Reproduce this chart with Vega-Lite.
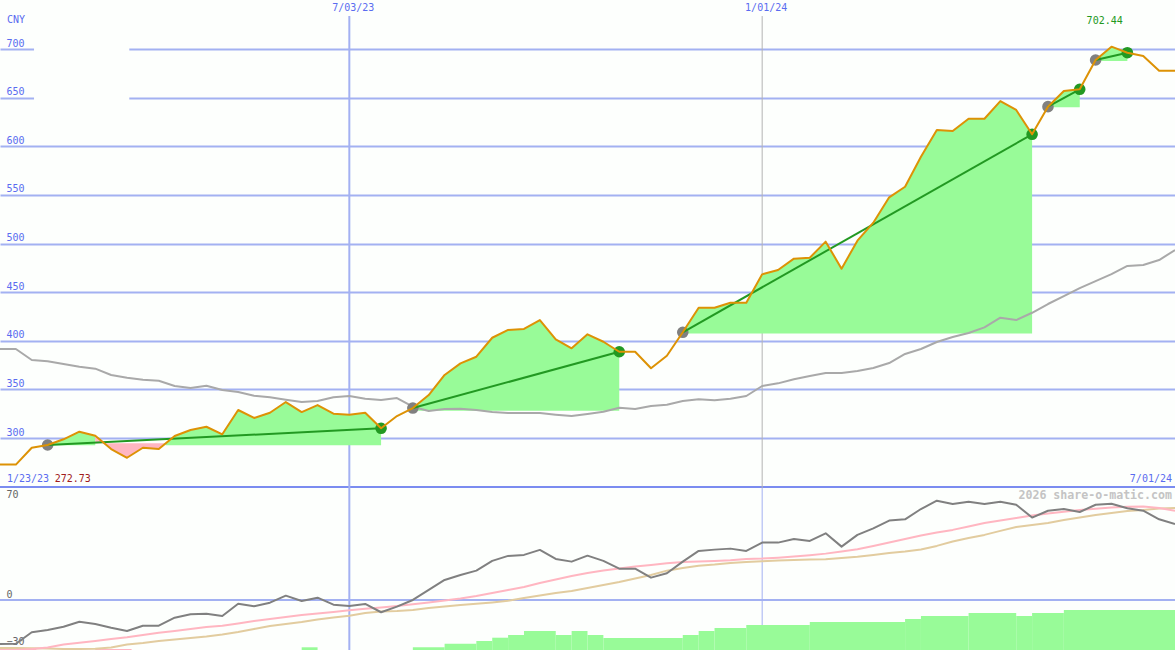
{
  "$schema": "https://vega.github.io/schema/vega-lite/v6.json",
  "padding": {"left": -1, "top": 0, "right": 0, "bottom": 0},
  "spacing": 0,
  "bounds": "flush",
  "background": "#fdfffd",
  "config": {"view": {"stroke": null}, "text": {"font": "DejaVu Sans Mono", "fontSize": 10}, "line": {"strokeJoin": "round", "clip": true}},
  "datasets": {
    "weekly": [
      {"date":"2023-01-30","close":272.7,"sma":391.5,"rsi":-30.8,"fast":-35.3,"slow":-33.6},
      {"date":"2023-02-06","close":272.7,"sma":391.5,"rsi":-30.6,"fast":-35,"slow":-33.6},
      {"date":"2023-02-13","close":290,"sma":380.2,"rsi":-22.6,"fast":-34.3,"slow":-33.7},
      {"date":"2023-02-20","close":292.8,"sma":378.9,"rsi":-21,"fast":-33.2,"slow":-33.9},
      {"date":"2023-02-27","close":298.7,"sma":376.1,"rsi":-18.7,"fast":-31.1,"slow":-34.3},
      {"date":"2023-03-06","close":306.5,"sma":373.3,"rsi":-15.2,"fast":-29.9,"slow":-34.3},
      {"date":"2023-03-13","close":302.4,"sma":371.3,"rsi":-16.8,"fast":-28.7,"slow":-34.1},
      {"date":"2023-03-20","close":288.7,"sma":364.8,"rsi":-19.4,"fast":-27.3,"slow":-33.2},
      {"date":"2023-03-27","close":279.7,"sma":362,"rsi":-21.7,"fast":-26.1,"slow":-31.1},
      {"date":"2023-04-03","close":290,"sma":359.9,"rsi":-18,"fast":-24.5,"slow":-30.1},
      {"date":"2023-04-10","close":288.7,"sma":358.9,"rsi":-18,"fast":-22.9,"slow":-28.7},
      {"date":"2023-04-17","close":302.1,"sma":353.5,"rsi":-12.4,"fast":-21.7,"slow":-27.6},
      {"date":"2023-04-24","close":308.2,"sma":351.4,"rsi":-10,"fast":-20.3,"slow":-26.6},
      {"date":"2023-05-01","close":311.6,"sma":353.8,"rsi":-9.6,"fast":-18.9,"slow":-25.5},
      {"date":"2023-05-08","close":303.8,"sma":349.4,"rsi":-11.2,"fast":-18,"slow":-24.1},
      {"date":"2023-05-15","close":328.8,"sma":347.3,"rsi":-2.6,"fast":-16.4,"slow":-22.4},
      {"date":"2023-05-22","close":320.6,"sma":343.5,"rsi":-4.4,"fast":-14.7,"slow":-20.3},
      {"date":"2023-05-29","close":326,"sma":341.9,"rsi":-1.9,"fast":-13.3,"slow":-18.2},
      {"date":"2023-06-05","close":337,"sma":339.4,"rsi":3,"fast":-11.9,"slow":-16.8},
      {"date":"2023-06-12","close":326.7,"sma":337,"rsi":-0.7,"fast":-10.5,"slow":-15.4},
      {"date":"2023-06-19","close":333.9,"sma":338,"rsi":1.6,"fast":-9.4,"slow":-13.6},
      {"date":"2023-06-26","close":325,"sma":341.9,"rsi":-3.3,"fast":-8.4,"slow":-12.2},
      {"date":"2023-07-03","close":324,"sma":343.2,"rsi":-4.2,"fast":-7.2,"slow":-11},
      {"date":"2023-07-10","close":326,"sma":340.4,"rsi":-2.8,"fast":-6.1,"slow":-9.1},
      {"date":"2023-07-17","close":310,"sma":339.1,"rsi":-8.6,"fast":-5.2,"slow":-8},
      {"date":"2023-07-24","close":322.6,"sma":341.1,"rsi":-4.7,"fast":-4.2,"slow":-7.7},
      {"date":"2023-07-31","close":330.8,"sma":332.2,"rsi":0,"fast":-3,"slow":-7},
      {"date":"2023-08-07","close":344.2,"sma":327.8,"rsi":7,"fast":-1.7,"slow":-5.6},
      {"date":"2023-08-14","close":364.8,"sma":329.8,"rsi":14,"fast":-0.3,"slow":-4.5},
      {"date":"2023-08-21","close":376.8,"sma":330.1,"rsi":17.5,"fast":1,"slow":-3.5},
      {"date":"2023-08-28","close":383.6,"sma":328.8,"rsi":20.5,"fast":2.8,"slow":-2.7},
      {"date":"2023-09-04","close":403.1,"sma":326.7,"rsi":27.3,"fast":4.9,"slow":-1.7},
      {"date":"2023-09-11","close":411.1,"sma":325.7,"rsi":30.8,"fast":7,"slow":-0.5},
      {"date":"2023-09-18","close":412.1,"sma":325.7,"rsi":31.5,"fast":9.1,"slow":1.4},
      {"date":"2023-09-25","close":421.3,"sma":325.7,"rsi":35,"fast":11.9,"slow":3.1},
      {"date":"2023-10-02","close":401.5,"sma":324,"rsi":28.7,"fast":14.3,"slow":4.9},
      {"date":"2023-10-09","close":392.2,"sma":322.6,"rsi":26.8,"fast":16.8,"slow":6.3},
      {"date":"2023-10-16","close":406.6,"sma":324.7,"rsi":31,"fast":18.9,"slow":8.4},
      {"date":"2023-10-23","close":399,"sma":327,"rsi":27.3,"fast":20.6,"slow":10.5},
      {"date":"2023-10-30","close":388.7,"sma":331.2,"rsi":21.9,"fast":22,"slow":12.6},
      {"date":"2023-11-06","close":388.7,"sma":329.8,"rsi":21.9,"fast":23.4,"slow":15},
      {"date":"2023-11-13","close":371.7,"sma":332.9,"rsi":15.6,"fast":24.5,"slow":17.5},
      {"date":"2023-11-20","close":384.6,"sma":334.2,"rsi":18.7,"fast":25.7,"slow":20.5},
      {"date":"2023-11-27","close":408.7,"sma":338,"rsi":26.8,"fast":26.6,"slow":22.4},
      {"date":"2023-12-04","close":434,"sma":339.8,"rsi":34.3,"fast":26.9,"slow":24},
      {"date":"2023-12-11","close":434,"sma":338.8,"rsi":35.2,"fast":27.3,"slow":24.8},
      {"date":"2023-12-18","close":439.1,"sma":340.4,"rsi":35.9,"fast":27.8,"slow":25.9},
      {"date":"2023-12-25","close":439.1,"sma":343.2,"rsi":34.3,"fast":28.7,"slow":26.6},
      {"date":"2024-01-01","close":468.3,"sma":353.5,"rsi":40.1,"fast":29,"slow":27.1},
      {"date":"2024-01-08","close":472.8,"sma":356.2,"rsi":40.1,"fast":29.6,"slow":27.6},
      {"date":"2024-01-15","close":484.4,"sma":360.4,"rsi":42.7,"fast":30.4,"slow":28},
      {"date":"2024-01-22","close":485.4,"sma":363.8,"rsi":41.3,"fast":31.3,"slow":28.3},
      {"date":"2024-01-29","close":501.9,"sma":366.8,"rsi":46.6,"fast":32.4,"slow":28.5},
      {"date":"2024-02-05","close":474.1,"sma":366.8,"rsi":37.3,"fast":33.9,"slow":29.4},
      {"date":"2024-02-12","close":502.9,"sma":368.9,"rsi":45.5,"fast":35.5,"slow":30.3},
      {"date":"2024-02-19","close":521.4,"sma":372,"rsi":50.1,"fast":37.8,"slow":31.5},
      {"date":"2024-02-26","close":547.5,"sma":377.1,"rsi":55.5,"fast":40.2,"slow":32.9},
      {"date":"2024-03-04","close":558.4,"sma":386.4,"rsi":56.4,"fast":42.7,"slow":33.9},
      {"date":"2024-03-11","close":589.3,"sma":391.5,"rsi":63.6,"fast":45.1,"slow":35.3},
      {"date":"2024-03-18","close":616.7,"sma":398.7,"rsi":69.4,"fast":47.2,"slow":37.8},
      {"date":"2024-03-25","close":615.7,"sma":403.9,"rsi":67.1,"fast":49,"slow":40.9},
      {"date":"2024-04-01","close":628.3,"sma":408,"rsi":68.7,"fast":51.4,"slow":43.4},
      {"date":"2024-04-08","close":628.3,"sma":413.8,"rsi":67.1,"fast":53.8,"slow":45.5},
      {"date":"2024-04-15","close":646.5,"sma":423.7,"rsi":68.7,"fast":55.6,"slow":48.3},
      {"date":"2024-04-22","close":637.3,"sma":421.3,"rsi":66.6,"fast":57.3,"slow":51},
      {"date":"2024-04-29","close":612.3,"sma":428.8,"rsi":57.6,"fast":59,"slow":52.4},
      {"date":"2024-05-06","close":640.7,"sma":437.8,"rsi":62.4,"fast":60.5,"slow":53.8},
      {"date":"2024-05-13","close":656.8,"sma":446,"rsi":63.6,"fast":61.7,"slow":55.9},
      {"date":"2024-05-20","close":658.6,"sma":454.2,"rsi":61.5,"fast":62.9,"slow":57.7},
      {"date":"2024-05-27","close":688.7,"sma":461.4,"rsi":66.6,"fast":63.8,"slow":59.4},
      {"date":"2024-06-03","close":702.4,"sma":468.6,"rsi":67.3,"fast":64.7,"slow":60.8},
      {"date":"2024-06-10","close":696.2,"sma":476.9,"rsi":64.1,"fast":65.1,"slow":62.2},
      {"date":"2024-06-17","close":692.8,"sma":477.9,"rsi":62.4,"fast":65.3,"slow":62.9},
      {"date":"2024-06-24","close":677.7,"sma":483,"rsi":56.4,"fast":64.3,"slow":64},
      {"date":"2024-07-01","close":677.7,"sma":493.3,"rsi":53.1,"fast":62.4,"slow":64.3}
    ],
    "fills": [
      {"leg":"a","result":"gain","base":292.5,"date":"2023-02-20","close":292.8},
      {"leg":"a","result":"gain","base":292.5,"date":"2023-02-27","close":298.7},
      {"leg":"a","result":"gain","base":292.5,"date":"2023-03-06","close":306.5},
      {"leg":"a","result":"gain","base":292.5,"date":"2023-03-13","close":302.4},
      {"leg":"b","result":"loss","base":294.5,"date":"2023-03-13","close":302.4},
      {"leg":"b","result":"loss","base":294.5,"date":"2023-03-20","close":288.7},
      {"leg":"b","result":"loss","base":294.5,"date":"2023-03-27","close":279.7},
      {"leg":"b","result":"loss","base":294.5,"date":"2023-04-03","close":290},
      {"leg":"b","result":"loss","base":294.5,"date":"2023-04-10","close":288.7},
      {"leg":"b","result":"loss","base":294.5,"date":"2023-04-13","close":294.5},
      {"leg":"c","result":"gain","base":292.5,"date":"2023-04-13","close":294.5},
      {"leg":"c","result":"gain","base":292.5,"date":"2023-04-17","close":302.1},
      {"leg":"c","result":"gain","base":292.5,"date":"2023-04-24","close":308.2},
      {"leg":"c","result":"gain","base":292.5,"date":"2023-05-01","close":311.6},
      {"leg":"c","result":"gain","base":292.5,"date":"2023-05-08","close":303.8},
      {"leg":"c","result":"gain","base":292.5,"date":"2023-05-15","close":328.8},
      {"leg":"c","result":"gain","base":292.5,"date":"2023-05-22","close":320.6},
      {"leg":"c","result":"gain","base":292.5,"date":"2023-05-29","close":326},
      {"leg":"c","result":"gain","base":292.5,"date":"2023-06-05","close":337},
      {"leg":"c","result":"gain","base":292.5,"date":"2023-06-12","close":326.7},
      {"leg":"c","result":"gain","base":292.5,"date":"2023-06-19","close":333.9},
      {"leg":"c","result":"gain","base":292.5,"date":"2023-06-26","close":325},
      {"leg":"c","result":"gain","base":292.5,"date":"2023-07-03","close":324},
      {"leg":"c","result":"gain","base":292.5,"date":"2023-07-10","close":326},
      {"leg":"c","result":"gain","base":292.5,"date":"2023-07-17","close":310},
      {"leg":"d","result":"gain","base":328,"date":"2023-07-31","close":330.8},
      {"leg":"d","result":"gain","base":328,"date":"2023-08-07","close":344.2},
      {"leg":"d","result":"gain","base":328,"date":"2023-08-14","close":364.8},
      {"leg":"d","result":"gain","base":328,"date":"2023-08-21","close":376.8},
      {"leg":"d","result":"gain","base":328,"date":"2023-08-28","close":383.6},
      {"leg":"d","result":"gain","base":328,"date":"2023-09-04","close":403.1},
      {"leg":"d","result":"gain","base":328,"date":"2023-09-11","close":411.1},
      {"leg":"d","result":"gain","base":328,"date":"2023-09-18","close":412.1},
      {"leg":"d","result":"gain","base":328,"date":"2023-09-25","close":421.3},
      {"leg":"d","result":"gain","base":328,"date":"2023-10-02","close":401.5},
      {"leg":"d","result":"gain","base":328,"date":"2023-10-09","close":392.2},
      {"leg":"d","result":"gain","base":328,"date":"2023-10-16","close":406.6},
      {"leg":"d","result":"gain","base":328,"date":"2023-10-23","close":399},
      {"leg":"d","result":"gain","base":328,"date":"2023-10-30","close":388.7},
      {"leg":"e","result":"gain","base":407.5,"date":"2023-11-27","close":408.7},
      {"leg":"e","result":"gain","base":407.5,"date":"2023-12-04","close":434},
      {"leg":"e","result":"gain","base":407.5,"date":"2023-12-11","close":434},
      {"leg":"e","result":"gain","base":407.5,"date":"2023-12-18","close":439.1},
      {"leg":"e","result":"gain","base":407.5,"date":"2023-12-25","close":439.1},
      {"leg":"e","result":"gain","base":407.5,"date":"2024-01-01","close":468.3},
      {"leg":"e","result":"gain","base":407.5,"date":"2024-01-08","close":472.8},
      {"leg":"e","result":"gain","base":407.5,"date":"2024-01-15","close":484.4},
      {"leg":"e","result":"gain","base":407.5,"date":"2024-01-22","close":485.4},
      {"leg":"e","result":"gain","base":407.5,"date":"2024-01-29","close":501.9},
      {"leg":"e","result":"gain","base":407.5,"date":"2024-02-05","close":474.1},
      {"leg":"e","result":"gain","base":407.5,"date":"2024-02-12","close":502.9},
      {"leg":"e","result":"gain","base":407.5,"date":"2024-02-19","close":521.4},
      {"leg":"e","result":"gain","base":407.5,"date":"2024-02-26","close":547.5},
      {"leg":"e","result":"gain","base":407.5,"date":"2024-03-04","close":558.4},
      {"leg":"e","result":"gain","base":407.5,"date":"2024-03-11","close":589.3},
      {"leg":"e","result":"gain","base":407.5,"date":"2024-03-18","close":616.7},
      {"leg":"e","result":"gain","base":407.5,"date":"2024-03-25","close":615.7},
      {"leg":"e","result":"gain","base":407.5,"date":"2024-04-01","close":628.3},
      {"leg":"e","result":"gain","base":407.5,"date":"2024-04-08","close":628.3},
      {"leg":"e","result":"gain","base":407.5,"date":"2024-04-15","close":646.5},
      {"leg":"e","result":"gain","base":407.5,"date":"2024-04-22","close":637.3},
      {"leg":"e","result":"gain","base":407.5,"date":"2024-04-29","close":612.3},
      {"leg":"f","result":"gain","base":640,"date":"2024-05-06","close":640.7},
      {"leg":"f","result":"gain","base":640,"date":"2024-05-13","close":656.8},
      {"leg":"f","result":"gain","base":640,"date":"2024-05-20","close":658.6},
      {"leg":"g","result":"gain","base":687.7,"date":"2024-05-27","close":688.7},
      {"leg":"g","result":"gain","base":687.7,"date":"2024-06-03","close":702.4},
      {"leg":"g","result":"gain","base":687.7,"date":"2024-06-10","close":696.2}
    ],
    "trades": [
      {"trade":1,"stage":"buy","date":"2023-02-20","price":292.8},
      {"trade":1,"stage":"sell","date":"2023-07-17","price":310},
      {"trade":2,"stage":"buy","date":"2023-07-31","price":330.8},
      {"trade":2,"stage":"sell","date":"2023-10-30","price":388.7},
      {"trade":3,"stage":"buy","date":"2023-11-27","price":408.7},
      {"trade":3,"stage":"sell","date":"2024-04-29","price":612.3},
      {"trade":4,"stage":"buy","date":"2024-05-06","price":640.7},
      {"trade":4,"stage":"sell","date":"2024-05-20","price":658.6},
      {"trade":5,"stage":"buy","date":"2024-05-27","price":688.7},
      {"trade":5,"stage":"sell","date":"2024-06-10","price":696.2}
    ],
    "bars": [
      {"start":"2023-01-30","end":"2023-02-15","top":-34.3,"result":"loss"},
      {"start":"2023-03-13","end":"2023-03-29","top":-34.3,"result":"loss"},
      {"start":"2023-06-12","end":"2023-06-19","top":-33.1,"result":"gain"},
      {"start":"2023-07-31","end":"2023-08-14","top":-33.1,"result":"gain"},
      {"start":"2023-08-14","end":"2023-08-28","top":-30.6,"result":"gain"},
      {"start":"2023-08-28","end":"2023-09-04","top":-28.7,"result":"gain"},
      {"start":"2023-09-04","end":"2023-09-11","top":-26.4,"result":"gain"},
      {"start":"2023-09-11","end":"2023-09-18","top":-24.5,"result":"gain"},
      {"start":"2023-09-18","end":"2023-10-02","top":-21.7,"result":"gain"},
      {"start":"2023-10-02","end":"2023-10-09","top":-24.5,"result":"gain"},
      {"start":"2023-10-09","end":"2023-10-16","top":-21.7,"result":"gain"},
      {"start":"2023-10-16","end":"2023-10-23","top":-24.5,"result":"gain"},
      {"start":"2023-10-23","end":"2023-11-27","top":-26.6,"result":"gain"},
      {"start":"2023-11-27","end":"2023-12-04","top":-24.5,"result":"gain"},
      {"start":"2023-12-04","end":"2023-12-11","top":-21.7,"result":"gain"},
      {"start":"2023-12-11","end":"2023-12-25","top":-19.6,"result":"gain"},
      {"start":"2023-12-25","end":"2024-01-22","top":-17.5,"result":"gain"},
      {"start":"2024-01-22","end":"2024-03-04","top":-15.4,"result":"gain"},
      {"start":"2024-03-04","end":"2024-03-11","top":-13.3,"result":"gain"},
      {"start":"2024-03-11","end":"2024-04-01","top":-11.2,"result":"gain"},
      {"start":"2024-04-01","end":"2024-04-22","top":-9.1,"result":"gain"},
      {"start":"2024-04-22","end":"2024-04-29","top":-11.2,"result":"gain"},
      {"start":"2024-04-29","end":"2024-05-13","top":-9.1,"result":"gain"},
      {"start":"2024-05-13","end":"2024-07-01","top":-7,"result":"gain"}
    ],
    "calendar": [
      {"date":"2023-07-03","label":"7/03/23","kind":"half"},
      {"date":"2024-01-01","label":"1/01/24","kind":"year"}
    ]
  },
  "vconcat": [
    {
      "width": 1175,
      "height": 488,
      "layer": [
        {
          "data": {"values": [{"start":"2023-02-14","end":"2023-03-28","low":644,"high":705}]},
          "mark": {"type": "rect", "color": "#fdfffd"},
          "encoding": {
            "x": {"field": "start", "type": "temporal", "axis": null, "scale": {"domain": ["2023-01-30", "2024-07-01"]}},
            "x2": {"field": "end"},
            "y": {
              "field": "low",
              "type": "quantitative",
              "scale": {"domain": [248.6, 750.4], "nice": false, "zero": false},
              "axis": {
                "title": null,
                "orient": "left",
                "values": [300, 350, 400, 450, 500, 550, 600, 650, 700],
                "domain": false,
                "ticks": false,
                "grid": true,
                "gridColor": "#a3b1f2",
                "gridWidth": 2,
                "labelAlign": "left",
                "labelBaseline": "bottom",
                "labelPadding": -6,
                "labelOffset": -1,
                "labelColor": "#5a6cf0",
                "labelFont": "DejaVu Sans Mono",
                "labelFontSize": 10
              }
            },
            "y2": {"field": "high"}
          }
        },
        {
          "data": {"values": [{"start":"2023-01-30","end":"2024-07-01","level":249.6}]},
          "mark": {"type": "rule", "color": "#7b8cf0", "strokeWidth": 2, "clip": true},
          "encoding": {
            "x": {"field": "start", "type": "temporal"},
            "x2": {"field": "end"},
            "y": {"field": "level", "type": "quantitative"}
          }
        },
        {
          "data": {"name": "calendar"},
          "mark": {"type": "rule"},
          "encoding": {
            "x": {"field": "date", "type": "temporal"},
            "y": {"datum": 733.9},
            "y2": {"datum": 248.6},
            "stroke": {"field": "kind", "type": "nominal", "legend": null, "scale": {"domain": ["half", "year"], "range": ["#a3b1f2", "#b4b4b4"]}},
            "size": {"field": "kind", "type": "ordinal", "legend": null, "scale": {"domain": ["half", "year"], "range": [2, 1]}}
          }
        },
        {
          "data": {"name": "fills"},
          "mark": {"type": "area"},
          "encoding": {
            "x": {"field": "date", "type": "temporal"},
            "y": {"field": "close", "type": "quantitative", "stack": null},
            "y2": {"field": "base"},
            "detail": {"field": "leg"},
            "fill": {"field": "result", "type": "nominal", "legend": null, "scale": {"domain": ["gain", "loss"], "range": ["#98fb98", "#ffb6c1"]}}
          }
        },
        {
          "data": {"name": "weekly"},
          "mark": {"type": "line", "color": "#a9a9a9", "strokeWidth": 2},
          "encoding": {
            "x": {"field": "date", "type": "temporal"},
            "y": {"field": "sma", "type": "quantitative"}
          }
        },
        {
          "data": {"name": "trades"},
          "mark": {"type": "circle", "opacity": 1, "size": 135},
          "encoding": {
            "x": {"field": "date", "type": "temporal"},
            "y": {"field": "price", "type": "quantitative"},
            "color": {"field": "stage", "type": "nominal", "legend": null, "scale": {"domain": ["buy", "sell"], "range": ["#808080", "#229922"]}}
          }
        },
        {
          "data": {"name": "trades"},
          "mark": {"type": "line", "color": "#229922", "strokeWidth": 2},
          "encoding": {
            "x": {"field": "date", "type": "temporal"},
            "y": {"field": "price", "type": "quantitative"},
            "detail": {"field": "trade"}
          }
        },
        {
          "data": {"name": "weekly"},
          "mark": {"type": "line", "color": "#dd9205", "strokeWidth": 2},
          "encoding": {
            "x": {"field": "date", "type": "temporal"},
            "y": {"field": "close", "type": "quantitative"}
          }
        },
        {
          "data": {"name": "calendar"},
          "mark": {"type": "text", "color": "#5a6cf0", "baseline": "middle", "dx": 4},
          "encoding": {
            "x": {"field": "date", "type": "temporal"},
            "y": {"datum": 742.2},
            "text": {"field": "label"}
          }
        },
        {
          "data": {"values": [
            {"date":"2023-01-30","price":729.8,"label":"CNY"},
            {"date":"2023-01-30","price":257.8,"label":"1/23/23"}
          ]},
          "mark": {"type": "text", "color": "#5a6cf0", "align": "left", "baseline": "middle", "dx": 7},
          "encoding": {
            "x": {"field": "date", "type": "temporal"},
            "y": {"field": "price", "type": "quantitative"},
            "text": {"field": "label"}
          }
        },
        {
          "data": {"values": [{"date":"2024-07-01","price":257.8,"label":"7/01/24"}]},
          "mark": {"type": "text", "color": "#5a6cf0", "align": "right", "baseline": "middle", "dx": -3},
          "encoding": {
            "x": {"field": "date", "type": "temporal"},
            "y": {"field": "price", "type": "quantitative"},
            "text": {"field": "label"}
          }
        },
        {
          "data": {"values": [{"date":"2023-02-20","price":257.8,"label":"272.73"}]},
          "mark": {"type": "text", "color": "#a01c1c", "align": "left", "baseline": "middle", "dx": 7},
          "encoding": {
            "x": {"field": "date", "type": "temporal"},
            "y": {"field": "price", "type": "quantitative"},
            "text": {"field": "label"}
          }
        },
        {
          "data": {"values": [{"date":"2024-05-31","price":728.8,"label":"702.44"}]},
          "mark": {"type": "text", "color": "#229922", "align": "center", "baseline": "middle"},
          "encoding": {
            "x": {"field": "date", "type": "temporal"},
            "y": {"field": "price", "type": "quantitative"},
            "text": {"field": "label"}
          }
        }
      ]
    },
    {
      "width": 1175,
      "height": 162,
      "layer": [
        {
          "data": {"values": [{"start":"2023-01-30","end":"2024-07-01","level":0}]},
          "mark": {"type": "rule", "color": "#a3b1f2", "strokeWidth": 2, "clip": true},
          "encoding": {
            "x": {"field": "start", "type": "temporal", "axis": null, "scale": {"domain": ["2023-01-30", "2024-07-01"]}},
            "x2": {"field": "end"},
            "y": {
              "field": "level",
              "type": "quantitative",
              "scale": {"domain": [-35, 78.3], "nice": false, "zero": false},
              "axis": {
                "title": null,
                "values": [-30, 0, 70],
                "format": "d",
                "domain": false,
                "ticks": false,
                "grid": false,
                "labelAlign": "left",
                "labelBaseline": "middle",
                "labelPadding": -6,
                "labelOffset": {"condition": {"test": "datum.value == -30", "value": -1}, "value": -5},
                "labelColor": "#666666",
                "labelFont": "DejaVu Sans Mono",
                "labelFontSize": 10
              }
            }
          }
        },
        {
          "data": {"name": "calendar"},
          "mark": {"type": "rule", "color": "#a3b1f2"},
          "encoding": {
            "x": {"field": "date", "type": "temporal"},
            "size": {"field": "kind", "type": "ordinal", "legend": null, "scale": {"domain": ["half", "year"], "range": [2, 1]}}
          }
        },
        {
          "data": {"name": "bars"},
          "mark": {"type": "rect"},
          "encoding": {
            "x": {"field": "start", "type": "temporal"},
            "x2": {"field": "end"},
            "y": {"field": "top", "type": "quantitative"},
            "y2": {"datum": -35},
            "fill": {"field": "result", "type": "nominal", "legend": null, "scale": {"domain": ["gain", "loss"], "range": ["#98fb98", "#ffb6c1"]}}
          }
        },
        {
          "data": {"name": "weekly"},
          "mark": {"type": "line", "color": "#e2cc9f", "strokeWidth": 2},
          "encoding": {
            "x": {"field": "date", "type": "temporal"},
            "y": {"field": "slow", "type": "quantitative"}
          }
        },
        {
          "data": {"name": "weekly"},
          "mark": {"type": "line", "color": "#ffb6c1", "strokeWidth": 2},
          "encoding": {
            "x": {"field": "date", "type": "temporal"},
            "y": {"field": "fast", "type": "quantitative"}
          }
        },
        {
          "data": {"name": "weekly"},
          "mark": {"type": "line", "color": "#808080", "strokeWidth": 2},
          "encoding": {
            "x": {"field": "date", "type": "temporal"},
            "y": {"field": "rsi", "type": "quantitative"}
          }
        },
        {
          "data": {"values": [{"date":"2024-07-01","value":72.7,"label":"2026 share-o-matic.com"}]},
          "mark": {"type": "text", "color": "#c4c4c4", "align": "right", "baseline": "middle", "dx": -3, "fontSize": 11.6, "fontWeight": "bold"},
          "encoding": {
            "x": {"field": "date", "type": "temporal"},
            "y": {"field": "value", "type": "quantitative"},
            "text": {"field": "label"}
          }
        }
      ]
    }
  ]
}
